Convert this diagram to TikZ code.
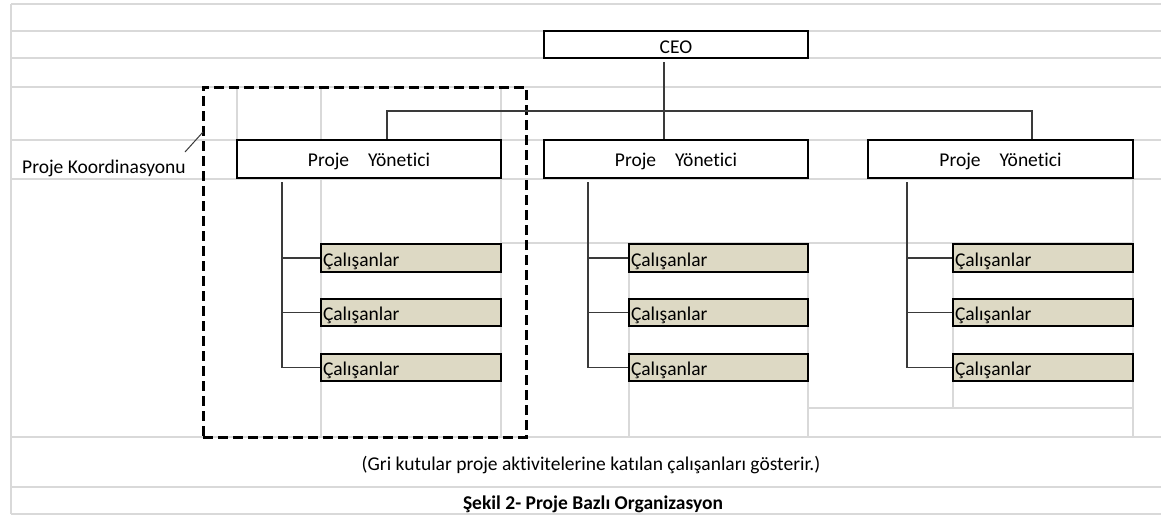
\documentclass[tikz,border=0pt]{standalone}
\usepackage{fontspec}
\setmainfont{Carlito}[Ligatures=NoCommon]
\usetikzlibrary{calc}
\definecolor{gridgray}{HTML}{D9D9D9}
\definecolor{empfill}{HTML}{DDD9C4}
\definecolor{conngray}{HTML}{3A3A3A}
\begin{document}
\begin{tikzpicture}[x=1pt,y=-1pt,
  every node/.style={font=\fontsize{19.5}{23}\selectfont},
  gridline/.style={draw=gridgray, line width=1.3pt},
  orgbox/.style={draw=black, line width=2pt, fill=white, inner sep=0pt},
  pmbox/.style={orgbox, minimum height=38pt, text height=18pt, text depth=4pt},
  ceobox/.style={orgbox, minimum width=264pt, minimum height=27pt, text height=21pt, text depth=4pt},
  empbox/.style={orgbox, fill=empfill, minimum height=27.5pt, inner xsep=2pt, align=left, text height=20pt, text depth=4pt},
  conn/.style={draw=conngray, line width=1.4pt},
  coordbox/.style={draw=black, line width=3pt, dash pattern=on 10pt off 5pt, inner sep=0pt, minimum width=323pt, minimum height=350pt},
  plain/.style={inner sep=0pt}
]
\useasboundingbox (0,0) rectangle (1161,515);
\fill[white] (0,0) rectangle (1161,515);

% spreadsheet grid
\foreach \y in {4,31,58,87,140,179,437,487,514}
  \draw[gridline] (11,\y) -- (1161,\y);
\draw[gridline] (501,243) -- (1133,243);
\draw[gridline] (808,408) -- (1133,408);
\draw[gridline] (11,4) -- (11,514);
\draw[gridline] (237,87) -- (237,140);
\draw[gridline] (321,87) -- (321,437);
\draw[gridline] (501,87) -- (501,437);
\draw[gridline] (629,243) -- (629,437);
\draw[gridline] (808,243) -- (808,437);
\draw[gridline] (953,243) -- (953,408);
\draw[gridline] (1133,179) -- (1133,437);

% boxes
\node[ceobox] (ceo) at (676,44.5) {CEO};
\node[pmbox, minimum width=264pt] (pm1) at (369,159) {Proje\hspace{19pt}Yönetici};
\node[pmbox, minimum width=264pt] (pm2) at (676,159) {Proje\hspace{19pt}Yönetici};
\node[pmbox, minimum width=265pt] (pm3) at (1000.5,159) {Proje\hspace{19pt}Yönetici};

\foreach \c/\cx/\w in {1/411/180, 2/718.5/179, 3/1043/180}{
  \foreach \r/\ry in {1/258, 2/312.5, 3/367.5}{
    \node[empbox, minimum width=\w pt, text width=\w pt-4pt] (e\c\r) at (\cx,\ry) {Çalışanlar};
  }
}

% project coordination frame
\node[coordbox] (pk) at (364.5,262) {};
\node[plain, anchor=base west] (koord) at (22,173) {Proje Koordinasyonu};
\coordinate (ls) at (185,152);
\coordinate (le) at (203,132);
\draw[conn, line width=1pt] (ls) -- (le);

% connectors CEO -> project managers
\coordinate (hl) at (387,111);
\coordinate (hc) at (664,111);
\coordinate (hr) at (1032,111);
\draw[conn, shorten <=3pt] (ceo.south -| hc) -- (pm2.north -| hc);
\draw[conn] (pm1.north -| hl) -- (hl) -- (hr) -- (pm3.north -| hr);

% connectors project managers -> employees
\foreach \c/\vx in {1/282, 2/588, 3/907}{
  \coordinate (v\c) at (\vx,0);
  \draw[conn, shorten <=3pt] (pm\c.south -| v\c) |- (e\c3.west);
  \draw[conn] (v\c |- e\c1.west) -- (e\c1.west);
  \draw[conn] (v\c |- e\c2.west) -- (e\c2.west);
}

% texts
\node[plain, anchor=base] (note) at (591,470) {(Gri kutular proje aktivitelerine katılan çalışanları gösterir.)};
\node[plain, anchor=base, font=\fontsize{19.5}{23}\selectfont\bfseries] (caption) at (593,509) {Şekil 2- Proje Bazlı Organizasyon};
\end{tikzpicture}
\end{document}
